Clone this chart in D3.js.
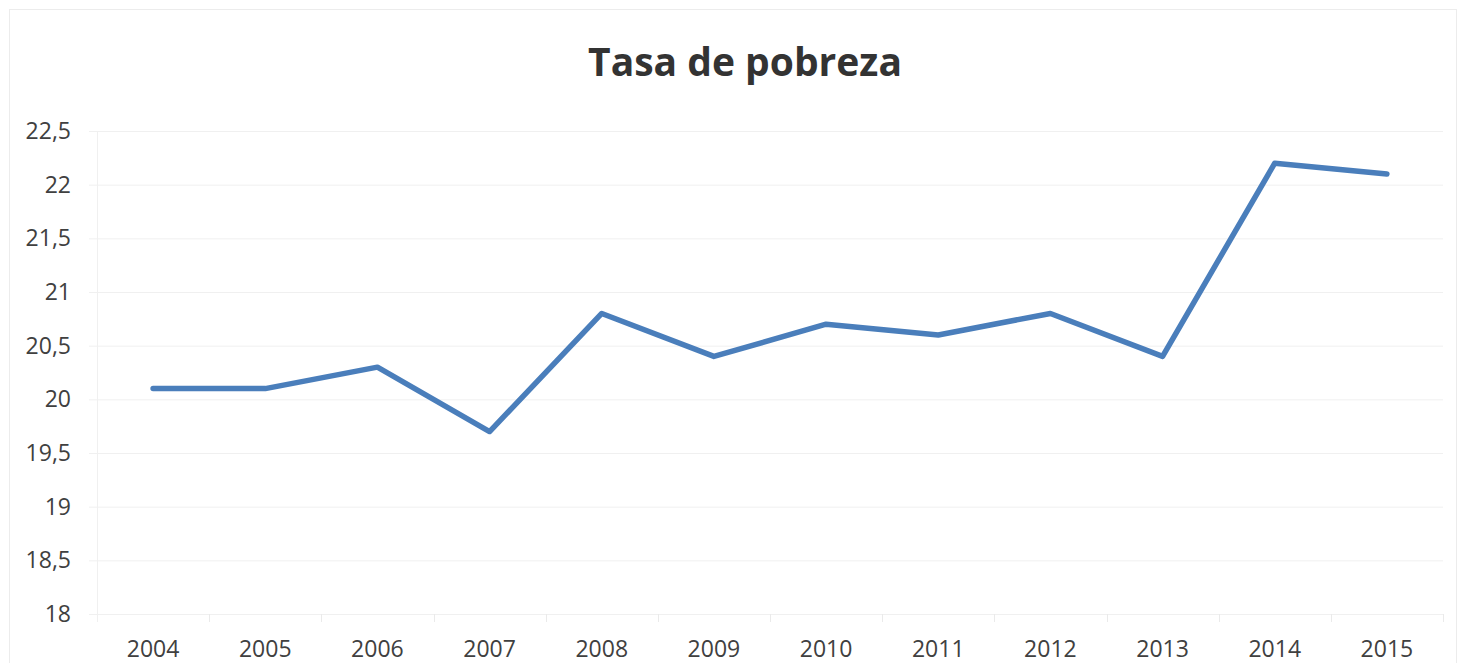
<!DOCTYPE html>
<html>
<head>
<meta charset="utf-8">
<script src="https://cdn.jsdelivr.net/npm/d3@7"></script>
<style>
  body { margin: 0; background: #fff; }
  svg, svg text { font-family: "Open Sans", sans-serif; }
</style>
</head>
<body>
<svg id="chart" width="1466" height="663"></svg>
<script>
const years = ['2004', '2005', '2006', '2007', '2008', '2009', '2010', '2011', '2012', '2013', '2014', '2015'];
const rate = [20.1, 20.1, 20.3, 19.7, 20.8, 20.4, 20.7, 20.6, 20.8, 20.4, 22.2, 22.1];
const yTicks = [18, 18.5, 19, 19.5, 20, 20.5, 21, 21.5, 22, 22.5];
const title = 'Tasa de pobreza';

const W = 1466, H = 663;
const margin = { top: 131, right: 23, bottom: 49, left: 97 };
const svg = d3.select('#chart');

// outer chart frame
svg.append('rect')
  .attr('x', 9.5).attr('y', 9.5)
  .attr('width', 1447).attr('height', 660)
  .attr('fill', 'none')
  .attr('stroke', '#ececec');

let x = d3.scaleBand().domain(years).range([margin.left, W - margin.right]);
let y = d3.scaleLinear().domain([18, 22.5]).range([H - margin.bottom, margin.top]);

// gridlines + y labels
let yAxis = svg.append('g')
  .attr('transform', `translate(${margin.left},0)`)
  .call(d3.axisLeft(y).tickValues(yTicks)
    .tickSize(-(W - margin.right - margin.left))
    .tickSizeOuter(0)
    .tickPadding(26)
    .tickFormat(d => String(d).replace('.', ',')));
yAxis.attr('font-family', null).attr('font-size', null);
yAxis.select('.domain').remove();
yAxis.selectAll('.tick line').attr('stroke', '#f0f0f0').attr('x1', -8);
yAxis.selectAll('.tick text').attr('fill', '#404040').style('font-size', '23px');

// vertical axis line
svg.append('line')
  .attr('x1', margin.left + 0.5).attr('x2', margin.left + 0.5)
  .attr('y1', y(22.5)).attr('y2', y(18) + 8)
  .attr('stroke', '#f0f0f0');

// category boundary ticks
let bounds = years.map(d => x(d)).concat([x(years[years.length - 1]) + x.bandwidth()]);
svg.append('g').selectAll('line')
  .data(bounds.slice(1))
  .enter()
  .append('line')
    .attr('x1', d => Math.round(d) + 0.5).attr('x2', d => Math.round(d) + 0.5)
    .attr('y1', y(18)).attr('y2', y(18) + 8)
    .attr('stroke', '#eaeaea');

// x labels
svg.append('g').selectAll('text')
  .data(years)
  .enter()
  .append('text')
    .attr('x', d => x(d) + x.bandwidth() / 2)
    .attr('y', y(18) + 43)
    .attr('text-anchor', 'middle')
    .attr('fill', '#404040')
    .style('font-size', '23px')
    .text(d => d);

// series line
let line = d3.line()
  .x((d, i) => x(years[i]) + x.bandwidth() / 2)
  .y(d => y(d));

svg.append('path')
  .datum(rate)
  .attr('d', line)
  .attr('fill', 'none')
  .attr('stroke', '#4a7ebb')
  .attr('stroke-width', 5.5)
  .attr('stroke-linejoin', 'round')
  .attr('stroke-linecap', 'round');

// title
svg.append('text')
  .attr('x', 745)
  .attr('y', 76)
  .attr('text-anchor', 'middle')
  .attr('fill', '#333')
  .style('font-size', '39px')
  .style('font-weight', 'bold')
  .text(title);
</script>
</body>
</html>
